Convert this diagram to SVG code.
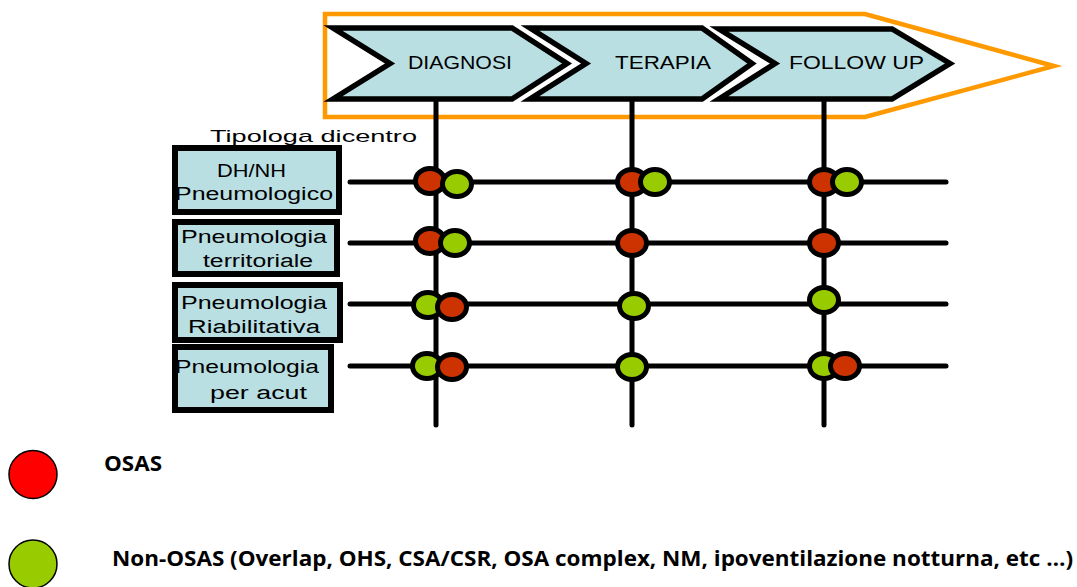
<svg xmlns="http://www.w3.org/2000/svg" width="1077" height="587" viewBox="0 0 1077 587">
<style>
.chev{fill:#B9DFE3;stroke:#000;stroke-width:5.5;stroke-linejoin:miter}
.box{fill:#B9DFE3;stroke:#000;stroke-width:6}
.ln{stroke:#000;stroke-width:5;stroke-linecap:round;fill:none}
.r{fill:#CC3300;stroke:#000;stroke-width:5}
.g{fill:#99CC00;stroke:#000;stroke-width:5}
.t{font-family:"Liberation Sans",Arial,sans-serif;fill:#000}
.lg{font-family:"Open Sans","Liberation Sans",sans-serif;font-weight:bold;fill:#000}
</style>
<rect width="1077" height="587" fill="#fff"/>
<g id="frame">
<polygon points="325,14 865,14 1054,66 865,117 325,117" fill="none" stroke="#FF9900" stroke-width="4.5"/>
</g>
<g id="connectors">
<line class="ln" x1="436" y1="99" x2="436" y2="425"/>
<line class="ln" x1="632" y1="99" x2="632" y2="425"/>
<line class="ln" x1="824" y1="99" x2="824" y2="425"/>
<line class="ln" x1="350" y1="182" x2="946" y2="182"/>
<line class="ln" x1="350" y1="243" x2="946" y2="243"/>
<line class="ln" x1="350" y1="304" x2="946" y2="304"/>
<line class="ln" x1="350" y1="366" x2="946" y2="366"/>
</g>
<g id="phase-diagnosi">
<path class="chev" d="M333,28 L512,28 L567,63.5 L512,99 L333,99 L390,63.5 Z"/>
<text class="t" x="408" y="69" font-size="18" textLength="104" lengthAdjust="spacingAndGlyphs">DIAGNOSI</text>
</g>
<g id="phase-terapia">
<path class="chev" d="M530,28 L702,28 L752,63.5 L702,99 L530,99 L586,63.5 Z"/>
<text class="t" x="615" y="69" font-size="18" textLength="96" lengthAdjust="spacingAndGlyphs">TERAPIA</text>
</g>
<g id="phase-followup">
<path class="chev" d="M719,29 L892,29 L950,63.5 L892,99 L719,99 L775,63.5 Z"/>
<text class="t" x="789" y="69" font-size="18" textLength="135" lengthAdjust="spacingAndGlyphs">FOLLOW UP</text>
</g>
<g id="header">
<text class="t" x="210" y="142" font-size="17" textLength="207" lengthAdjust="spacingAndGlyphs">Tipologa dicentro</text>
</g>
<g id="box-dhnh">
<rect class="box" x="175" y="148" width="164" height="64"/>
<text class="t" x="217" y="177" font-size="18" textLength="69" lengthAdjust="spacingAndGlyphs">DH/NH</text>
<text class="t" x="175" y="200" font-size="18" textLength="158" lengthAdjust="spacingAndGlyphs">Pneumologico</text>
</g>
<g id="box-territoriale">
<rect class="box" x="175" y="222" width="162" height="52"/>
<text class="t" x="181" y="243" font-size="18" textLength="146" lengthAdjust="spacingAndGlyphs">Pneumologia</text>
<text class="t" x="203" y="267" font-size="18" textLength="110" lengthAdjust="spacingAndGlyphs">territoriale</text>
</g>
<g id="box-riabilitativa">
<rect class="box" x="175" y="285" width="165" height="55"/>
<text class="t" x="181" y="309" font-size="18" textLength="146" lengthAdjust="spacingAndGlyphs">Pneumologia</text>
<text class="t" x="188" y="333" font-size="18" textLength="132" lengthAdjust="spacingAndGlyphs">Riabilitativa</text>
</g>
<g id="box-acuti">
<rect class="box" x="175" y="347" width="156" height="63"/>
<text class="t" x="175" y="373" font-size="18" textLength="144" lengthAdjust="spacingAndGlyphs">Pneumologia</text>
<text class="t" x="210" y="399" font-size="18" textLength="97" lengthAdjust="spacingAndGlyphs">per acut</text>
</g>
<g id="dots-diagnosi">
<ellipse class="r" cx="430" cy="181" rx="14.5" ry="12.5"/>
<ellipse class="g" cx="457" cy="184" rx="14.5" ry="12.5"/>
<ellipse class="r" cx="430" cy="241" rx="14.5" ry="12.5"/>
<ellipse class="g" cx="455" cy="243" rx="14.5" ry="12.5"/>
<ellipse class="g" cx="428" cy="305" rx="14.5" ry="12.5"/>
<ellipse class="r" cx="452" cy="307" rx="14.5" ry="12.5"/>
<ellipse class="g" cx="427" cy="366" rx="14.5" ry="12.5"/>
<ellipse class="r" cx="452" cy="367" rx="14.5" ry="12.5"/>
</g>
<g id="dots-terapia">
<ellipse class="r" cx="632" cy="182" rx="14.5" ry="12.5"/>
<ellipse class="g" cx="655" cy="182" rx="14.5" ry="12.5"/>
<ellipse class="r" cx="632" cy="243" rx="14.5" ry="12.5"/>
<ellipse class="g" cx="634" cy="306" rx="14.5" ry="12.5"/>
<ellipse class="g" cx="632" cy="367" rx="14.5" ry="12.5"/>
</g>
<g id="dots-followup">
<ellipse class="r" cx="824" cy="182" rx="14.5" ry="12.5"/>
<ellipse class="g" cx="847" cy="182" rx="14.5" ry="12.5"/>
<ellipse class="r" cx="824" cy="243" rx="14.5" ry="12.5"/>
<ellipse class="g" cx="824" cy="300" rx="14.5" ry="12.5"/>
<ellipse class="g" cx="824" cy="366" rx="14.5" ry="12.5"/>
<ellipse class="r" cx="845" cy="366" rx="14.5" ry="12.5"/>
</g>
<g id="legend-osas">
<ellipse cx="33" cy="474.5" rx="24" ry="24" fill="#FF0000" stroke="#000" stroke-width="1.5"/>
<text class="lg" x="104" y="471" font-size="21" textLength="58" lengthAdjust="spacingAndGlyphs">OSAS</text>
</g>
<g id="legend-nonosas">
<ellipse cx="33" cy="564" rx="24" ry="24" fill="#99CC00" stroke="#000" stroke-width="1.5"/>
<text class="lg" x="112" y="566" font-size="21" textLength="961" lengthAdjust="spacingAndGlyphs">Non-OSAS (Overlap, OHS, CSA/CSR, OSA complex, NM, ipoventilazione notturna, etc …)</text>
</g>
</svg>
